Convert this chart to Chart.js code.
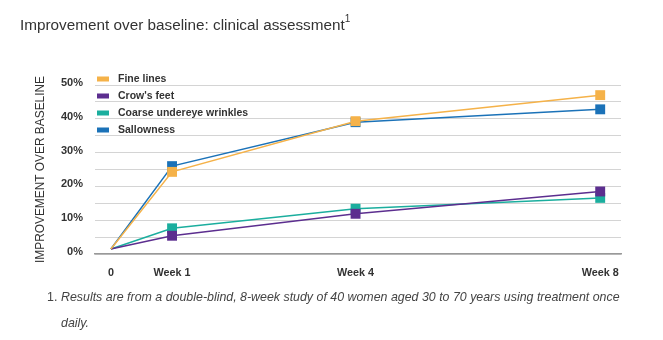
<!DOCTYPE html>
<html>
<head>
<meta charset="utf-8">
<script src="https://cdn.jsdelivr.net/npm/chart.js@4/dist/chart.umd.min.js"></script>
<style>
  html, body { margin: 0; padding: 0; background: #fff; }
  body { width: 663px; height: 340px; position: relative; overflow: hidden;
         font-family: "Liberation Sans", Arial, sans-serif; }
  #wrap { position: absolute; left: 0; top: 0; width: 663px; height: 340px; }
  .title { position: absolute; left: 20px; top: 15px; font-size: 15.3px; color: #333; white-space: nowrap; }
  .title sup { font-size: 10px; position: relative; top: -2px; }
  .note { position: absolute; left: 47px; top: 284px; font-size: 12.4px; color: #444;
          line-height: 26px; white-space: nowrap; }
  .note .num { position: absolute; left: 0; font-style: normal; }
  .note .txt { margin-left: 14px; font-style: italic; }
</style>
</head>
<body>
<div id="wrap"><canvas id="chart"></canvas></div>
<div class="title">Improvement over baseline: clinical assessment<sup>1</sup></div>
<div class="note"><span class="num">1.</span><div class="txt">Results are from a double-blind, 8-week study of 40 women aged 30 to 70 years using treatment once<br>daily.</div></div>
<script>
// weeks since baseline
const weeks      = [0, 1, 4, 8];
const xTicks     = [0, 1, 4, 8];
const xLabels    = ['0', 'Week 1', 'Week 4', 'Week 8'];
const yTitle     = 'IMPROVEMENT OVER BASELINE';

const seriesNames = ['Fine lines', "Crow's feet", 'Coarse undereye wrinkles', 'Sallowness'];
const fineLines   = [1.5, 24.3, 39.3, 47.0];
const crowsFeet   = [1.5, 5.4, 11.9, 18.5];
const coarse      = [1.5, 7.6, 13.4, 16.6];
const sallowness  = [1.5, 26.0, 39.0, 42.8];
const colors      = ['#F5B249', '#5C2E8F', '#1BAE9E', '#1B72B8'];

const allSeries = [fineLines, crowsFeet, coarse, sallowness];
const FONT = '"Liberation Sans", Arial, sans-serif';

// little legend drawn inside the plot, top left
const insideLegend = {
  id: 'insideLegend',
  afterDraw(chart) {
    const ctx = chart.ctx;
    ctx.save();
    ctx.font = 'bold 10.5px ' + FONT;
    ctx.textBaseline = 'middle';
    chart.data.datasets.forEach((ds, i) => {
      const y = 79 + i * 17;
      ctx.fillStyle = ds.borderColor;
      ctx.fillRect(97, y - 2.5, 12, 5);
      ctx.fillStyle = '#333';
      ctx.fillText(ds.label, 118, y);
    });
    ctx.restore();
  }
};

new Chart(document.getElementById('chart'), {
  type: 'line',
  data: {
    datasets: allSeries.map((vals, i) => ({
      label: seriesNames[i],
      data: vals.map((v, j) => ({ x: weeks[j], y: v })),
      borderColor: colors[i],
      backgroundColor: colors[i],
      borderWidth: 1.5,
      pointStyle: 'rect',
      pointRadius: vals.map((v, j) => j === 0 ? 0 : 7),
      pointHoverRadius: 7,
      pointBorderWidth: 0,
      tension: 0
    }))
  },
  options: {
    responsive: true,
    maintainAspectRatio: false,
    animation: false,
    layout: { padding: { top: 85, left: 34, right: 42, bottom: 56 } },
    plugins: { legend: { display: false }, tooltip: { enabled: false } },
    scales: {
      x: {
        type: 'linear',
        min: -0.26, max: 8.34,
        afterBuildTicks: s => { s.ticks = xTicks.map(v => ({ value: v })); },
        afterFit: s => { s.height = 30; },
        grid: { display: false },
        border: { color: '#999', width: 1.5 },
        ticks: {
          padding: 5,
          color: '#333',
          font: { family: FONT, size: 10.8, weight: 'bold' },
          callback: v => xLabels[xTicks.indexOf(v)]
        }
      },
      y: {
        min: 0, max: 50,
        afterFit: s => { s.width = 61; },
        grid: { color: '#d4d4d4', lineWidth: 1, drawTicks: false },
        border: { display: false },
        ticks: {
          stepSize: 5,
          padding: 12,
          labelOffset: -2,
          color: '#333',
          font: { family: FONT, size: 11, weight: 'bold' },
          callback: v => (v % 10 === 0 ? v + '%' : '')
        },
        title: {
          display: true,
          text: yTitle,
          color: '#333',
          padding: 0,
          font: { family: FONT, size: 11.9 }
        }
      }
    }
  },
  plugins: [insideLegend]
});
</script>
</body>
</html>
